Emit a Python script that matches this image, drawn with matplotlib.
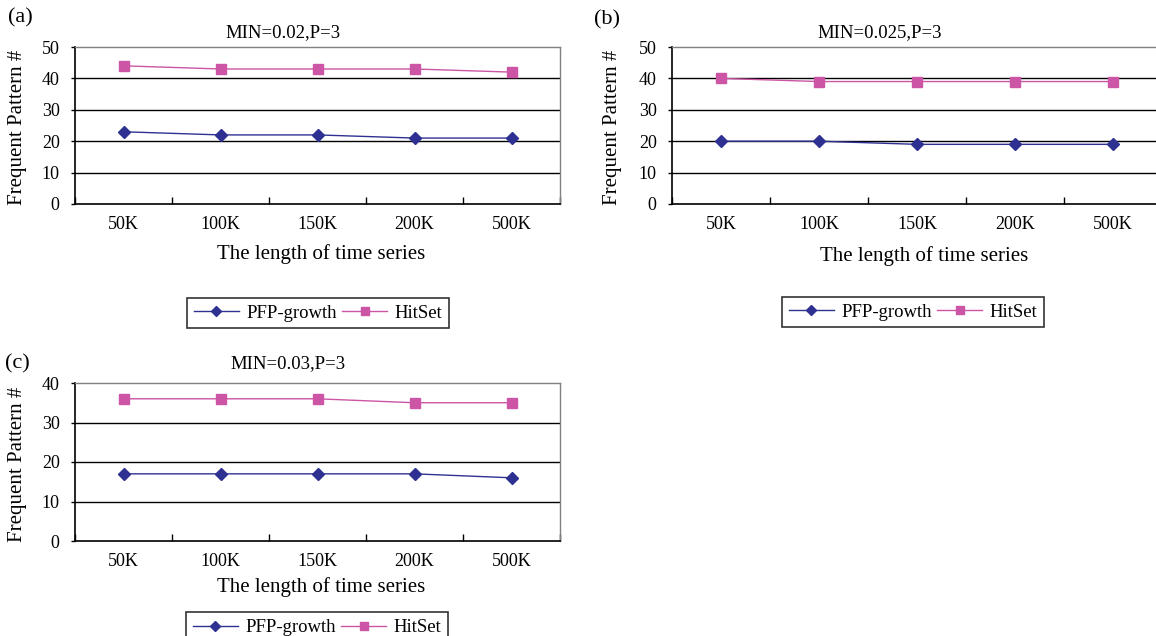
import numpy as np
import matplotlib.pyplot as plt
from matplotlib.ticker import FixedLocator, NullFormatter

# data
lengths = ["50K", "100K", "150K", "200K", "500K"]
titles = ["MIN=0.02,P=3", "MIN=0.025,P=3", "MIN=0.03,P=3"]
panel_tags = ["(a)", "(b)", "(c)"]
y_max = [50, 50, 40]

pfp_a = [23, 22, 22, 21, 21]
hit_a = [44, 43, 43, 43, 42]
pfp_b = [20, 20, 19, 19, 19]
hit_b = [40, 39, 39, 39, 39]
pfp_c = [17, 17, 17, 17, 16]
hit_c = [36, 36, 36, 35, 35]

PFP_COLOR = "#2E3192"
HIT_COLOR = "#CC55A5"

plt.rcParams['font.family'] = ['Liberation Serif', 'DejaVu Serif']

W, H = 1156, 636
fig = plt.figure(figsize=(W / 100, H / 100), dpi=100)


def px(x, y):
    # pixel position (from top-left) -> figure fraction
    return x / W, 1 - y / H


# axes boxes in pixels: left, top, right, bottom
boxes = [(75, 47, 560, 204), (672, 47, 1162, 204), (75, 383, 560, 541)]
series = [(pfp_a, hit_a), (pfp_b, hit_b), (pfp_c, hit_c)]
tag_pos = [(20, 18), (607, 20), (17, 364)]
title_pos = [(283, 33), (880, 33), (288, 364)]
xlabel_pos = [(321, 254), (924, 256), (321, 587)]
ylabel_x = [18, 613, 18]
legend_pos = [(318, 313, 'center'), (913, 312, 'center'), (317, 603, 'upper center')]

x = np.arange(len(lengths))
for k in range(3):
    l, t, r, b = boxes[k]
    ax = fig.add_axes([l / W, 1 - b / H, (r - l) / W, (b - t) / H])
    pfp, hit = series[k]
    line_pfp, = ax.plot(x, pfp, color=PFP_COLOR, lw=1, marker='D', ms=6,
                        label="PFP-growth", clip_on=False)
    line_hit, = ax.plot(x, hit, color=HIT_COLOR, lw=1, marker='s', ms=7,
                        label="HitSet", clip_on=False)

    ax.set_xlim(-0.5, len(lengths) - 0.5)
    ax.set_ylim(0, y_max[k])
    ax.set_yticks(np.arange(0, y_max[k] + 1, 10))
    for v in np.arange(10, y_max[k], 10):
        ax.axhline(v, color='black', lw=1, zorder=0)

    # category boundaries as ticks, labels at the centres
    ax.xaxis.set_major_locator(FixedLocator(np.arange(-0.5, len(lengths), 1)))
    ax.xaxis.set_major_formatter(NullFormatter())
    ax.xaxis.set_minor_locator(FixedLocator(x))
    ax.set_xticklabels(lengths, minor=True)
    ax.tick_params(axis='x', which='major', direction='in', length=5, width=1)
    ax.tick_params(axis='x', which='minor', length=0, pad=9, labelsize=13)
    ax.tick_params(axis='y', direction='out', length=3, width=1, pad=8, labelsize=13)

    for s in ['left', 'bottom']:
        ax.spines[s].set_color('black')
        ax.spines[s].set_linewidth(1.2)
    for s in ['top', 'right']:
        ax.spines[s].set_color('#808080')
        ax.spines[s].set_linewidth(1)

    fig.text(*px(*tag_pos[k]), panel_tags[k], fontsize=16, ha='center', va='center')
    fig.text(*px(*title_pos[k]), titles[k], fontsize=13.5, ha='center', va='center')
    fig.text(*px(*xlabel_pos[k]), "The length of time series", fontsize=15,
             ha='center', va='center')
    fig.text(*px(ylabel_x[k], (t + b) / 2 + 2), "Frequent Pattern #", fontsize=15,
             ha='center', va='center', rotation=90)

    lx, ly, loc = legend_pos[k]
    leg = fig.legend(handles=[line_pfp, line_hit], loc=loc, bbox_to_anchor=px(lx, ly),
                     ncol=2, fontsize=13.5, frameon=True, fancybox=False,
                     edgecolor='black', handlelength=2.4, handletextpad=0.4,
                     columnspacing=0.3, borderpad=0.35, markerscale=0.8)
    leg.get_frame().set_linewidth(1.2)

fig.savefig("out.png", dpi=100)
